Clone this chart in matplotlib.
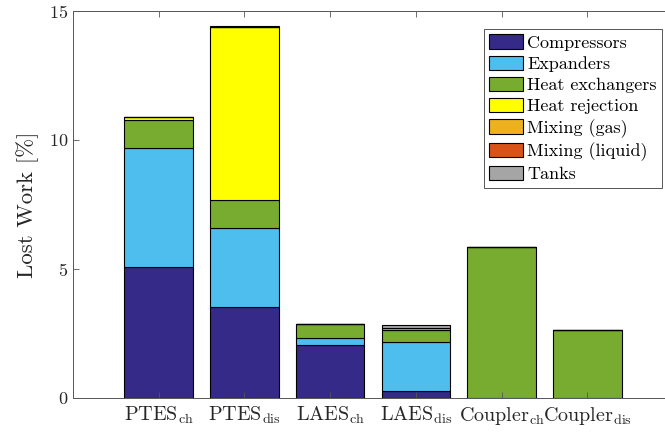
import numpy as np
import matplotlib
matplotlib.use("Agg")
import matplotlib.pyplot as plt

plt.rcParams['font.family'] = 'serif'
plt.rcParams['font.serif'] = ['cmr10']
plt.rcParams['mathtext.fontset'] = 'cm'
plt.rcParams['axes.formatter.use_mathtext'] = True

# cases along the x axis
categories = [r'PTES$_{\mathrm{ch}}$', r'PTES$_{\mathrm{dis}}$',
              r'LAES$_{\mathrm{ch}}$', r'LAES$_{\mathrm{dis}}$',
              r'Coupler$_{\mathrm{ch}}$', r'Coupler$_{\mathrm{dis}}$']

# lost work contributions [%]
compressors    = [5.07, 3.51, 2.07, 0.28, 0.00, 0.00]
expanders      = [4.59, 3.09, 0.27, 1.88, 0.00, 0.00]
heat_exchanger = [1.10, 1.08, 0.52, 0.49, 5.84, 2.65]
heat_rejection = [0.10, 6.68, 0.00, 0.00, 0.00, 0.00]
mixing_gas     = [0.02, 0.02, 0.00, 0.05, 0.01, 0.00]
mixing_liquid  = [0.00, 0.00, 0.00, 0.02, 0.00, 0.00]
tanks          = [0.01, 0.03, 0.02, 0.09, 0.01, 0.00]

series = [compressors, expanders, heat_exchanger, heat_rejection,
          mixing_gas, mixing_liquid, tanks]
names = ['Compressors', 'Expanders', 'Heat exchangers', 'Heat rejection',
         'Mixing (gas)', 'Mixing (liquid)', 'Tanks']
colors = ['#352A87', '#4DBEEE', '#77AC30', '#FFFF00',
          '#EDB120', '#D95319', '#A5A5A5']

fig = plt.figure(figsize=(6.65, 4.32), dpi=100)
# axes run slightly past the right edge, like the cropped original
ax = fig.add_axes([73/665, 34/432, 600/665, 387.5/432])

x = np.arange(1, len(categories) + 1)
bottom = np.zeros(len(categories))
for vals, name, col in zip(series, names, colors):
    ax.bar(x, vals, 0.8, bottom=bottom, color=col, edgecolor='black',
           linewidth=0.8, label=name)
    bottom += np.array(vals)

ax.set_xlim(0, 7)
ax.set_ylim(0, 15)
ax.set_xticks(x)
ax.set_xticklabels(categories, fontsize=14.5)
ax.set_yticks([0, 5, 10, 15])
ax.tick_params(axis='y', labelsize=13)
ax.tick_params(direction='in', top=True, right=True, length=4,
               width=0.6, color='#555555', labelcolor='#262626')
ax.tick_params(axis='x', pad=5)
for s in ax.spines.values():
    s.set_color('#555555')
    s.set_linewidth(0.7)

ax.set_ylabel('Lost Work [%]', fontsize=16.5, color='#262626', labelpad=7)

leg = ax.legend(loc='upper right', bbox_to_anchor=(662/665, 1 - 29/432),
                bbox_transform=fig.transFigure, borderaxespad=0,
                fontsize=13, fancybox=False, framealpha=1,
                handlelength=1.9, handleheight=0.85, handletextpad=0.2,
                labelspacing=0.26, borderpad=0.3)
leg.get_frame().set_edgecolor('#555555')
leg.get_frame().set_linewidth(0.7)

fig.savefig('out.png', dpi=100)
